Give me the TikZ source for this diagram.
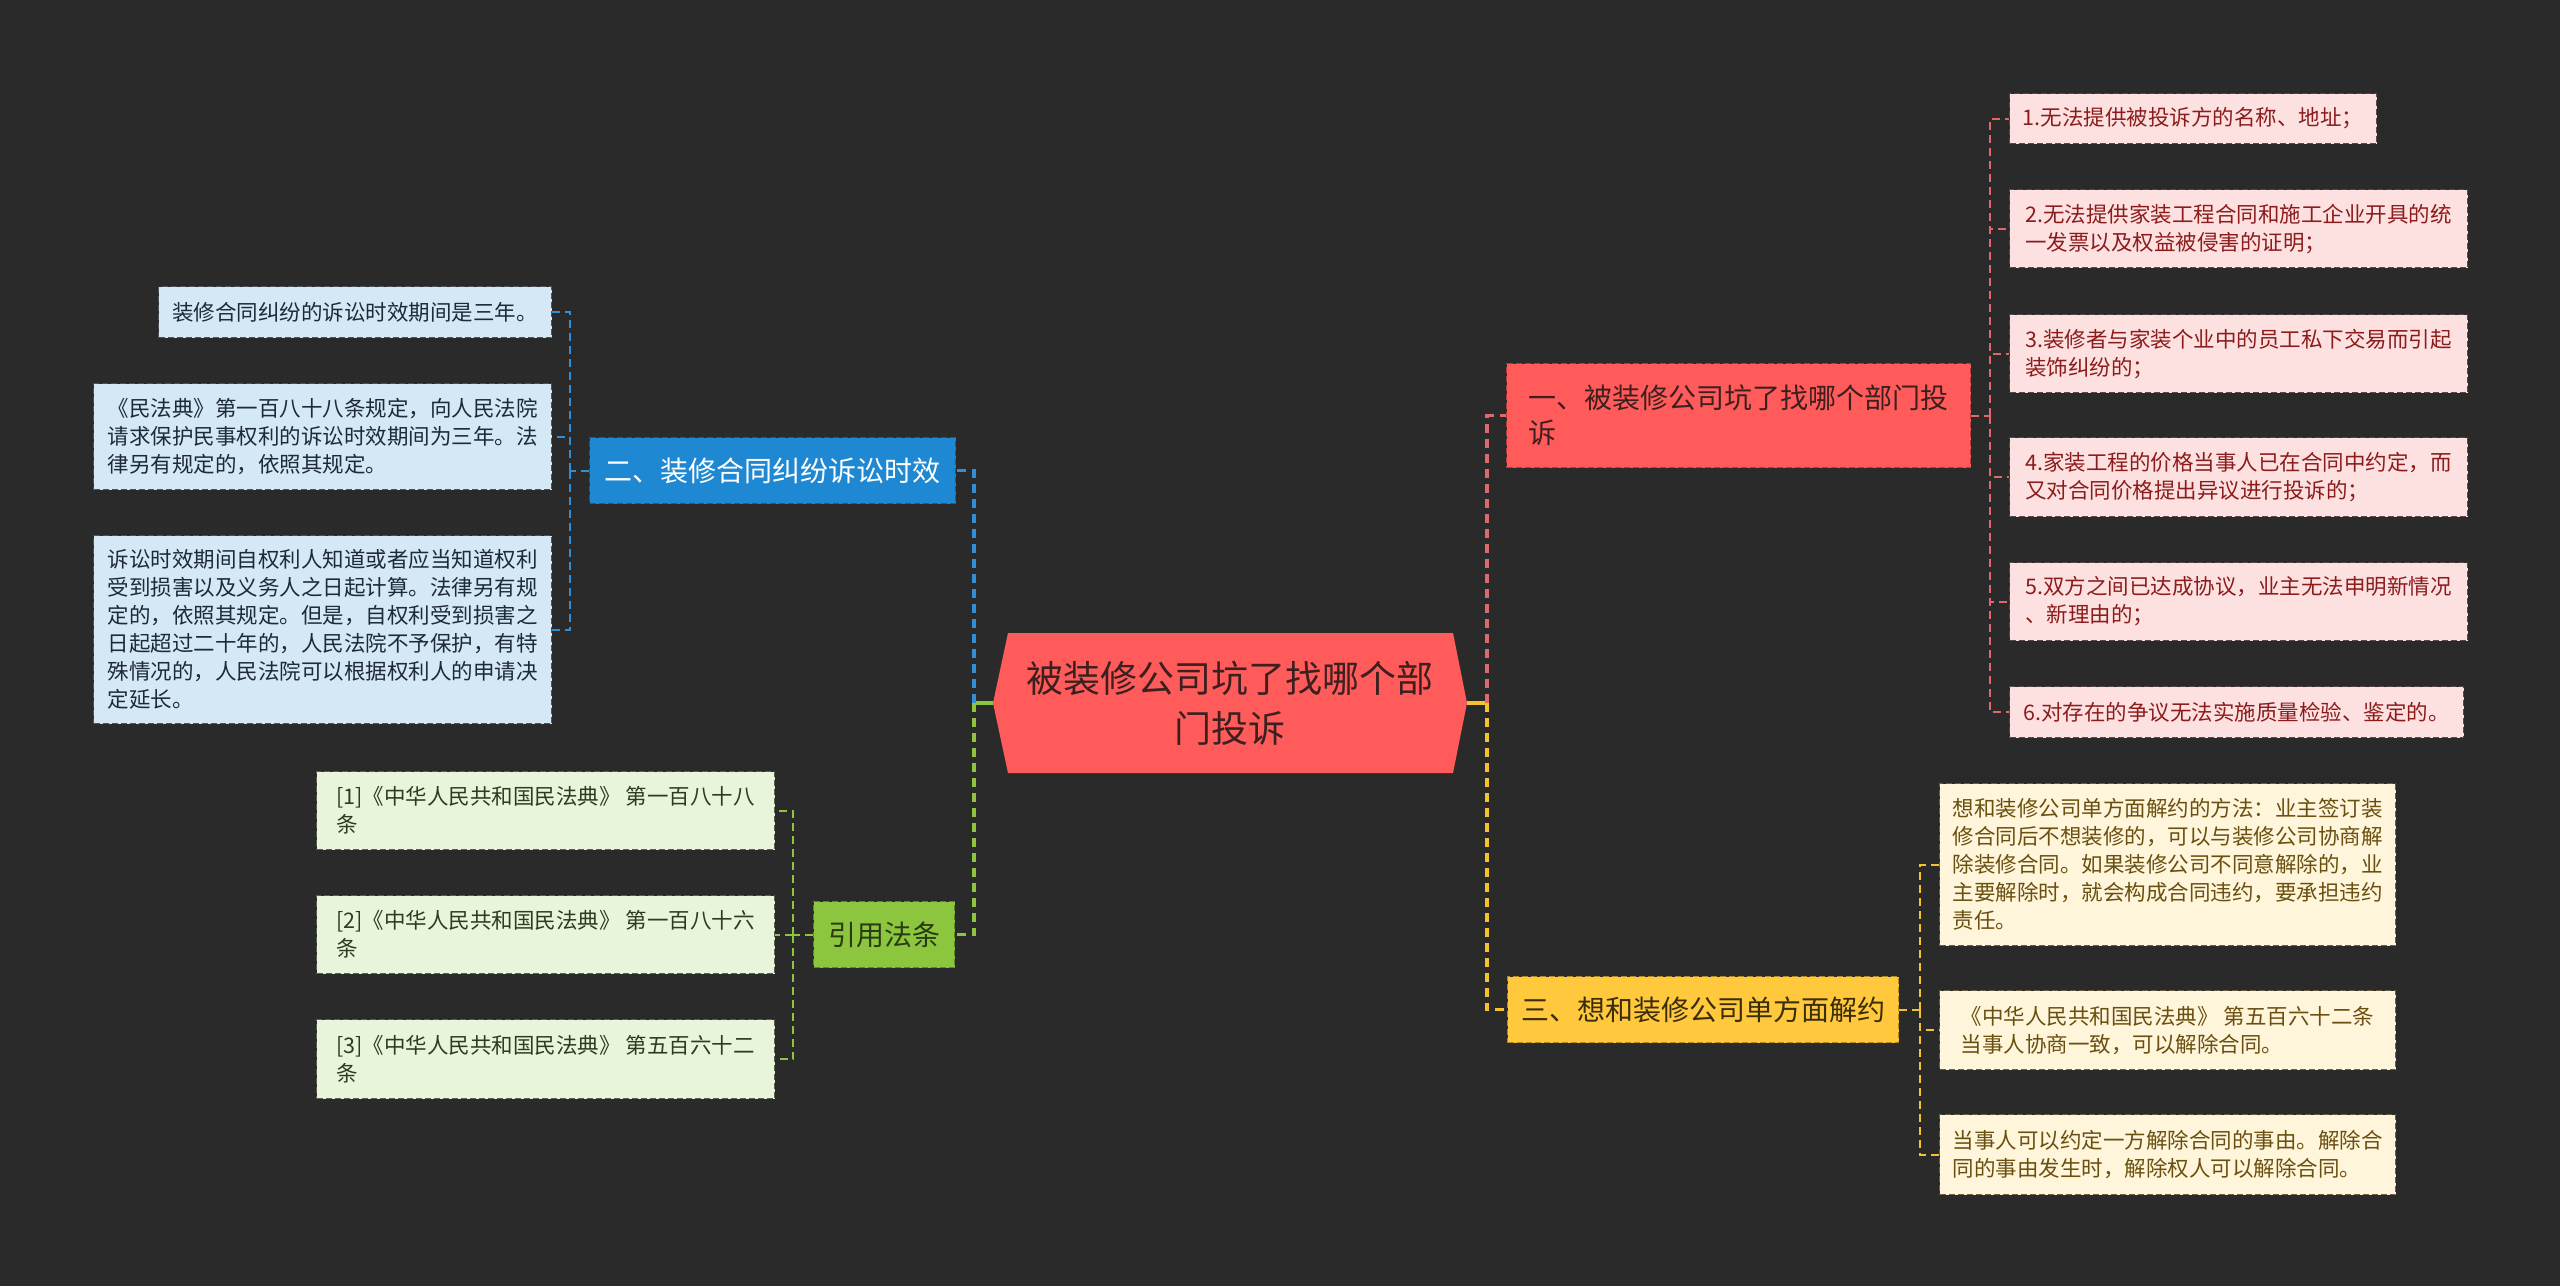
\documentclass[tikz,border=0pt]{standalone}
\usepackage{fontspec}
\setmainfont{Noto Sans CJK SC}
\usetikzlibrary{calc}
\definecolor{bgc}{HTML}{2A2A2A}
\definecolor{rootfill}{HTML}{FF5B5B}
\definecolor{roottext}{HTML}{3D1F1F}
\definecolor{redborder}{HTML}{B33A3A}
\definecolor{pinkfill}{HTML}{FDE1E1}
\definecolor{pinkborder}{HTML}{5A4848}
\definecolor{pinktext}{HTML}{8C1C1C}
\definecolor{bluefill}{HTML}{1E88D2}
\definecolor{blueborder}{HTML}{145E94}
\definecolor{lbluefill}{HTML}{D4E8F6}
\definecolor{lblueborder}{HTML}{4A5560}
\definecolor{lbluetext}{HTML}{1E2A36}
\definecolor{greenfill}{HTML}{8CC63F}
\definecolor{greenborder}{HTML}{5A8A20}
\definecolor{greentext}{HTML}{2A3A12}
\definecolor{lgreenfill}{HTML}{E9F5DA}
\definecolor{lgreenborder}{HTML}{5A6050}
\definecolor{lgreentext}{HTML}{2F3A20}
\definecolor{yelfill}{HTML}{FFC83D}
\definecolor{yelborder}{HTML}{B38A1E}
\definecolor{yeltext}{HTML}{3A2E08}
\definecolor{lyelfill}{HTML}{FFF5DA}
\definecolor{lyelborder}{HTML}{6A6040}
\definecolor{lyeltext}{HTML}{6A5010}
\definecolor{redc}{HTML}{E06868}
\definecolor{bluec}{HTML}{2F8FD8}
\definecolor{greenc}{HTML}{8CC63F}
\definecolor{yelc}{HTML}{F2C230}
\newcommand\mybx[7]{%
  \node[#1, anchor=north west, minimum width={(#5-#3)*0.5pt}, minimum height={(#6-#4)*0.5pt}] (#2) at (#3,#4) {#7};}
\begin{document}
\begin{tikzpicture}[x=0.5pt,y=-0.5pt,
  boxbase/.style={dash pattern=on 3pt off 1.5pt, line width=0.6pt, align=left, inner sep=4pt},
  leafbox/.style={boxbase, font=\fontsize{10.75pt}{14pt}\selectfont},
  branchbox/.style={boxbase, font=\fontsize{14pt}{17.5pt}\selectfont},
  pinkleaf/.style={leafbox, fill=pinkfill, draw=pinkborder, text=pinktext},
  blueleaf/.style={leafbox, fill=lbluefill, draw=lblueborder, text=lbluetext},
  greenleaf/.style={leafbox, fill=lgreenfill, draw=lgreenborder, text=lgreentext},
  yelleaf/.style={leafbox, fill=lyelfill, draw=lyelborder, text=lyeltext},
  redbranch/.style={branchbox, fill=rootfill, draw=redborder, text=roottext},
  bluebranch/.style={branchbox, fill=bluefill, draw=blueborder, text=white},
  greenbranch/.style={branchbox, fill=greenfill, draw=greenborder, text=greentext},
  yelbranch/.style={branchbox, fill=yelfill, draw=yelborder, text=yeltext},
  trunk/.style={line width=1.6pt, dash pattern=on 4.5pt off 3pt},
  twig/.style={line width=0.9pt, dash pattern=on 4pt off 2.5pt},
  solidlink/.style={line width=1.6pt}
]
\fill[bgc] (0,0) rectangle (2560,1286);
\useasboundingbox (0,0) rectangle (2560,1286);

% root
\fill[rootfill] (993,703) -- (1008,633) -- (1453,633) -- (1467,703) -- (1453,773) -- (1008,773) -- cycle;
\node[font=\fontsize{18.5pt}{25pt}\selectfont, text=roottext, align=center, minimum width=237pt, minimum height=70pt, inner sep=0pt] (root) at (1230,703) {被装修公司坑了找哪个部\\门投诉};

% branches
\mybx{redbranch}{b1}{1506}{363}{1970}{467}{一、被装修公司坑了找哪个部门投\\诉}
\mybx{bluebranch}{b2}{589}{437}{955}{503}{二、装修合同纠纷诉讼时效}
\mybx{yelbranch}{b3}{1507}{976}{1898}{1042}{三、想和装修公司单方面解约}
\mybx{greenbranch}{b4}{813}{901}{954}{967}{引用法条}

% red leaves
\mybx{pinkleaf}{r1}{2009}{93}{2376}{143}{1.无法提供被投诉方的名称、地址；}
\mybx{pinkleaf}{r2}{2009}{189}{2467}{267}{2.无法提供家装工程合同和施工企业开具的统\\一发票以及权益被侵害的证明；}
\mybx{pinkleaf}{r3}{2009}{314}{2467}{392}{3.装修者与家装个业中的员工私下交易而引起\\装饰纠纷的；}
\mybx{pinkleaf}{r4}{2009}{437}{2467}{516}{4.家装工程的价格当事人已在合同中约定，而\\又对合同价格提出异议进行投诉的；}
\mybx{pinkleaf}{r5}{2009}{562}{2467}{640}{5.双方之间已达成协议，业主无法申明新情况\\、新理由的；}
\mybx{pinkleaf}{r6}{2009}{686}{2463}{737}{6.对存在的争议无法实施质量检验、鉴定的。}

% blue leaves
\mybx{blueleaf}{l1}{158}{286}{551}{337}{装修合同纠纷的诉讼时效期间是三年。}
\mybx{blueleaf}{l2}{93}{383}{551}{489}{《民法典》第一百八十八条规定，向人民法院\\请求保护民事权利的诉讼时效期间为三年。法\\律另有规定的，依照其规定。}
\mybx{blueleaf}{l3}{93}{535}{551}{723}{诉讼时效期间自权利人知道或者应当知道权利\\受到损害以及义务人之日起计算。法律另有规\\定的，依照其规定。但是，自权利受到损害之\\日起超过二十年的，人民法院不予保护，有特\\殊情况的，人民法院可以根据权利人的申请决\\定延长。}

% green leaves
\mybx{greenleaf}{g1}{316}{771}{774}{849}{[1]《中华人民共和国民法典》 第一百八十八\\条}
\mybx{greenleaf}{g2}{316}{895}{774}{973}{[2]《中华人民共和国民法典》 第一百八十六\\条}
\mybx{greenleaf}{g3}{316}{1019}{774}{1098}{[3]《中华人民共和国民法典》 第五百六十二\\条}

% yellow leaves
\mybx{yelleaf}{y1}{1939}{783}{2395}{945}{想和装修公司单方面解约的方法：业主签订装\\修合同后不想装修的，可以与装修公司协商解\\除装修合同。如果装修公司不同意解除的，业\\主要解除时，就会构成合同违约，要承担违约\\责任。}
\mybx{yelleaf}{y2}{1939}{990}{2395}{1069}{《中华人民共和国民法典》 第五百六十二条\\当事人协商一致，可以解除合同。}
\mybx{yelleaf}{y3}{1939}{1114}{2395}{1194}{当事人可以约定一方解除合同的事由。解除合\\同的事由发生时，解除权人可以解除合同。}

% trunk connectors
\coordinate (jr) at (1487,703);
\coordinate (jl) at (974,703);
\draw[solidlink, yelc] (root.east) -- (jr);
\draw[trunk, redc] (jr) |- (b1.west);
\draw[trunk, yelc] (jr) |- (b3.west);
\draw[solidlink, greenc] (root.west) -- (jl);
\draw[trunk, bluec] (jl) |- (b2.east);
\draw[trunk, greenc] (jl) |- (b4.east);

% leaf connectors
\coordinate (rt) at ($(b1.east)+(19,0)$);
\draw[twig, redc] (b1.east) -- (rt);
\foreach \n in {r1,r2,r3,r4,r5,r6} \draw[twig, redc] (rt) |- (\n.west);
\coordinate (bt) at ($(b2.west)+(-19,0)$);
\draw[twig, bluec] (b2.west) -- (bt);
\foreach \n in {l1,l2,l3} \draw[twig, bluec] (bt) |- (\n.east);
\coordinate (gt) at ($(b4.west)+(-20,0)$);
\draw[twig, greenc] (b4.west) -- (gt);
\foreach \n in {g1,g2,g3} \draw[twig, greenc] (gt) |- (\n.east);
\coordinate (yt) at ($(b3.east)+(21,0)$);
\draw[twig, yelc] (b3.east) -- (yt);
\foreach \n in {y1,y2,y3} \draw[twig, yelc] (yt) |- (\n.west);
\end{tikzpicture}
\end{document}
